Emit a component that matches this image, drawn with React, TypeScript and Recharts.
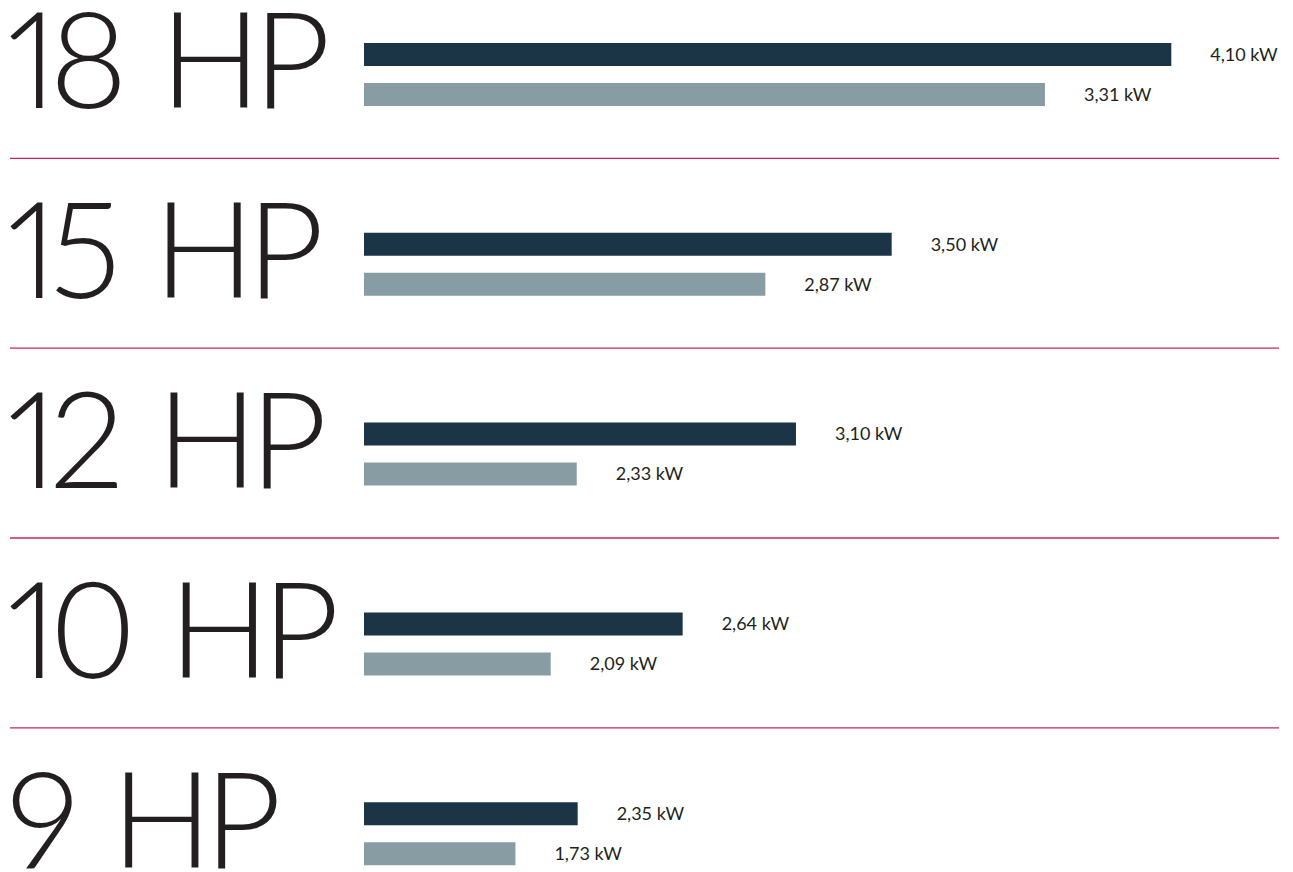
import React from "react";
import { BarChart, Bar, XAxis, YAxis, LabelList } from "recharts";

// Categories (engine power)
const categories = ["18 HP", "15 HP", "12 HP", "10 HP", "9 HP"];
// Bar lengths (% of axis length)
const darkLength = [86.9, 56.8, 46.5, 34.3, 23.0];
const lightLength = [73.3, 43.2, 22.9, 20.1, 16.3];
// Value labels
const darkLabels = ["4,10 kW", "3,50 kW", "3,10 kW", "2,64 kW", "2,35 kW"];
const lightLabels = ["3,31 kW", "2,87 kW", "2,33 kW", "2,09 kW", "1,73 kW"];

const data = categories.map((name, i) => ({
  name,
  dark: darkLength[i],
  light: lightLength[i],
  darkLabel: darkLabels[i],
  lightLabel: lightLabels[i],
}));

const FONT = "Lato, 'Noto Sans', sans-serif";
const TEXT = "#231f20";
const SEP = "#c8245a";

const BigTick = (props: any) => {
  const { y, payload, index } = props;
  return (
    <g>
      <text
        x={7}
        y={y + 33.5}
        textAnchor="start"
        fontFamily={FONT}
        fontWeight={300}
        fontSize={134}
        letterSpacing={-8}
        wordSpacing={12}
        style={{ fontVariantNumeric: "proportional-nums" }}
        fill={TEXT}
      >
        {payload.value}
      </text>
      {index < categories.length - 1 && (
        <line x1={10} x2={1279} y1={y + 83.5} y2={y + 83.5} stroke={SEP} strokeWidth={1.3} />
      )}
    </g>
  );
};

export default function App() {
  return (
    <div
      style={{
        position: "absolute",
        left: 0,
        top: 0,
        width: 1293,
        height: 872,
        overflow: "hidden",
        background: "#ffffff",
      }}
    >
      <div style={{ position: "absolute", left: 0, top: -20 }}>
        <BarChart
          width={1293}
          height={950}
          data={data}
          layout="vertical"
          margin={{ top: 0, right: 0, bottom: 1, left: 0 }}
          barGap={17}
          barSize={23}
        >
          <XAxis type="number" domain={[0, 100]} hide />
          <YAxis
            type="category"
            dataKey="name"
            width={364}
            axisLine={false}
            tickLine={false}
            tick={<BigTick />}
            interval={0}
          />
          <Bar dataKey="dark" fill="#1b3546" isAnimationActive={false}>
            <LabelList
              dataKey="darkLabel"
              position="right"
              offset={39}
              fill={TEXT}
              fontSize={18}
              fontFamily={FONT}
            />
          </Bar>
          <Bar dataKey="light" fill="#889da3" isAnimationActive={false}>
            <LabelList
              dataKey="lightLabel"
              position="right"
              offset={39}
              fill={TEXT}
              fontSize={18}
              fontFamily={FONT}
            />
          </Bar>
        </BarChart>
      </div>
    </div>
  );
}
